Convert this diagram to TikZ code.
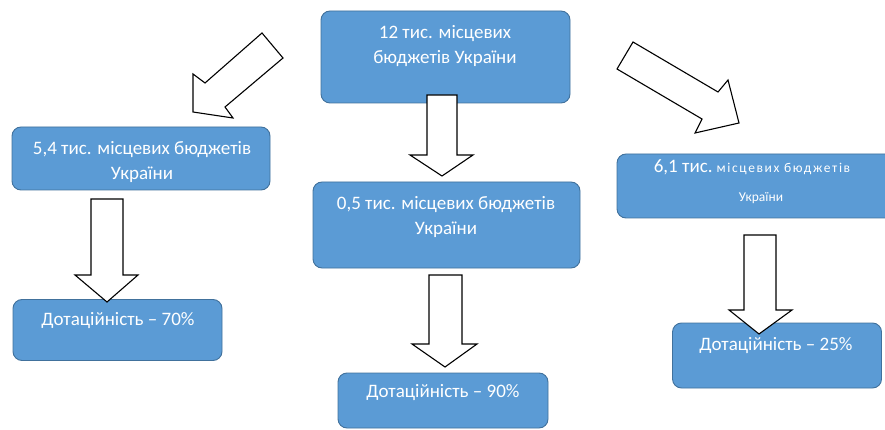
\documentclass[tikz,border=0pt]{standalone}
\usepackage{fontspec}
\setmainfont{Carlito}
\newfontfamily\spacedfont[LetterSpace=12]{Carlito}
\definecolor{boxfill}{HTML}{5B9BD5}
\definecolor{boxborder}{HTML}{41719C}
\begin{document}
\begin{tikzpicture}[x=1pt,y=-1pt,
  box/.style={draw=boxborder, fill=boxfill, rounded corners=9pt, line width=0.9pt, inner sep=0pt},
  txt/.style={text=white, align=center, font=\fontsize{19}{25}\selectfont, inner sep=0pt},
  barrow/.style={draw=black, fill=white, line width=1.1pt, line join=miter}]
\useasboundingbox (0,0) rectangle (885,430);
\clip (0,0) rectangle (885,430);
% boxes
\node[box, minimum width=249pt, minimum height=92pt] (top) at (445.5,57) {};
\node[box, minimum width=258pt, minimum height=63pt] (left) at (141,158.5) {};
\node[box, minimum width=267pt, minimum height=86pt] (mid) at (446.5,225) {};
\node[box, minimum width=278pt, minimum height=64pt] (right) at (756,186) {};
\node[box, minimum width=209pt, minimum height=61pt] (bl) at (117.5,330) {};
\node[box, minimum width=210pt, minimum height=55pt] (bm) at (443,400.5) {};
\node[box, minimum width=209pt, minimum height=65pt] (br) at (777,355.5) {};
% texts
\node[txt] (toptxt) at (445,46) {12 тис. місцевих\\бюджетів України};
\node[txt] (lefttxt) at (142,162) {5,4 тис. місцевих бюджетів\\України};
\node[txt] (midtxt) at (446,217) {0,5 тис. місцевих бюджетів\\України};
\node[txt, font=\fontsize{13.5}{29}\selectfont] (righttxt) at (752,182) {{\fontsize{19}{29}\selectfont 6,1 тис.} {\spacedfont місцевих бюджетів}\\\hspace*{18pt}України};
\node[txt] (bltxt) at (118,321) {Дотаційність -- 70\%};
\node[txt] (bmtxt) at (443,393) {Дотаційність -- 90\%};
\node[txt] (brtxt) at (776,346) {Дотаційність -- 25\%};
% block arrows
\draw[barrow] (262,33) -- (283,58) -- (225,107) -- (233,118) -- (193,112) -- (193,74) -- (205,83) -- cycle;
\draw[barrow] (633,42) -- (718,92) -- (728,80) -- (739,123) -- (695,133) -- (702,119) -- (617,69) -- cycle;
\draw[barrow] (427,95) -- (457,95) -- (457,155) -- (473,155) -- (442,176) -- (410,155) -- (427,155) -- cycle;
\draw[barrow] (91,199) -- (123,199) -- (123,275) -- (138,275) -- (107,302) -- (75,275) -- (91,275) -- cycle;
\draw[barrow] (429,275) -- (462,275) -- (462,344) -- (477,344) -- (445,367) -- (412,344) -- (429,344) -- cycle;
\draw[barrow] (744,235) -- (776,235) -- (776,310) -- (792,310) -- (759,334) -- (729,310) -- (744,310) -- cycle;
\end{tikzpicture}
\end{document}
